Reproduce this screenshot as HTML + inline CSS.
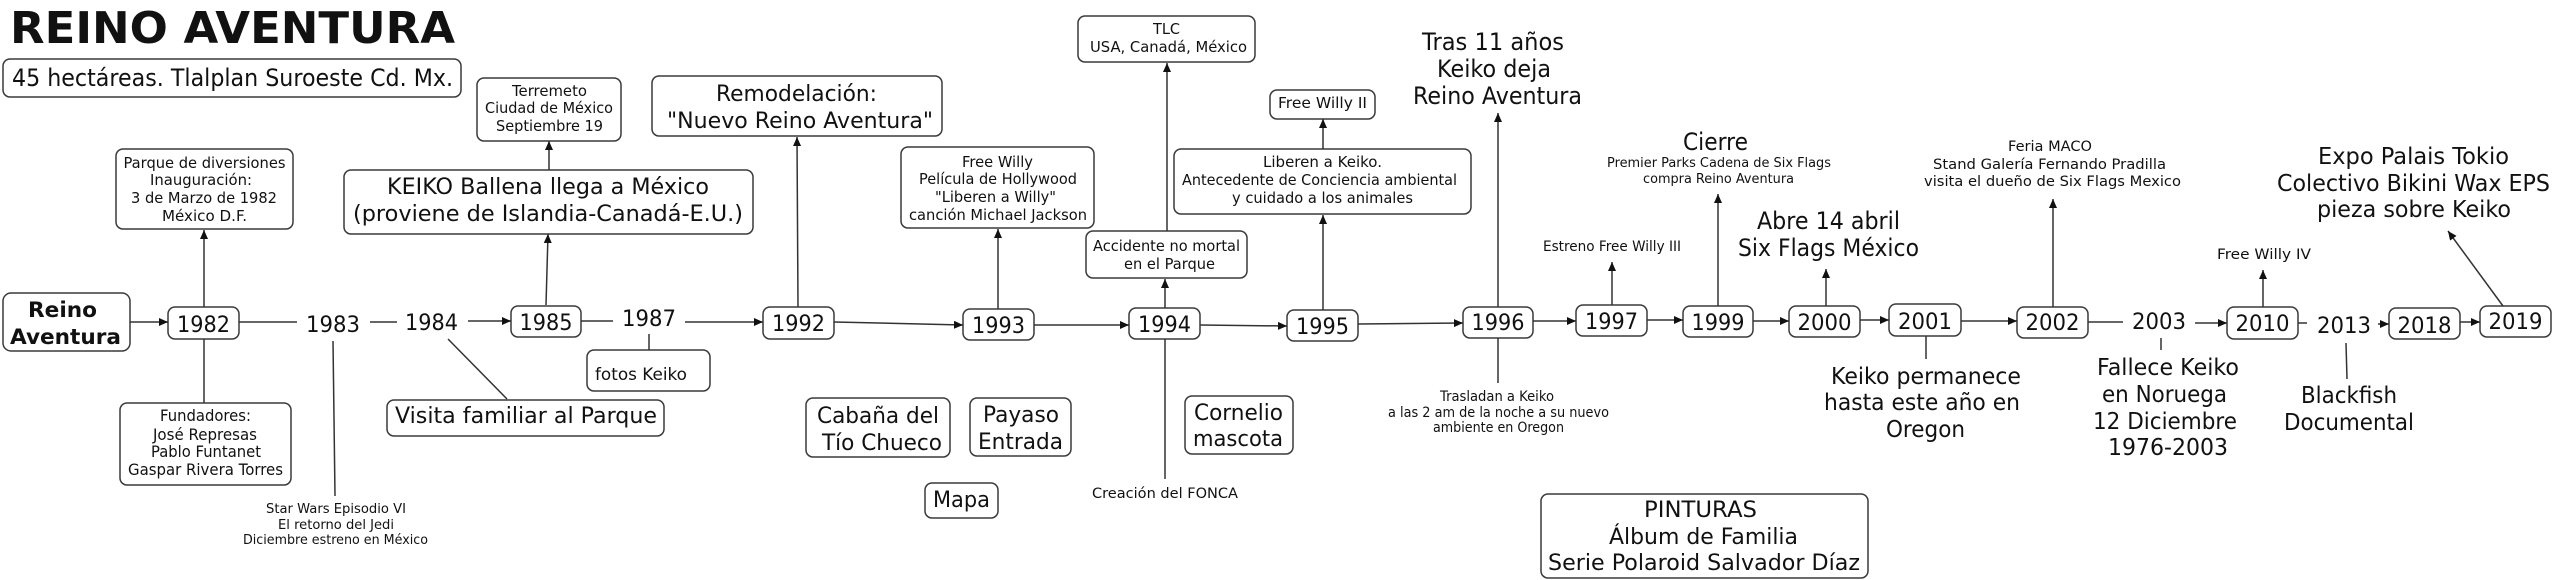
<!DOCTYPE html>
<html><head><meta charset="utf-8"><style>
html,body{margin:0;padding:0;background:#fff;}
svg{display:block;}
text{font-family:"DejaVu Sans","Liberation Sans",sans-serif;fill:#111;}
.m{text-anchor:middle;}
.b{fill:#fff;stroke:#3a3a3a;stroke-width:1.5;}
.l{stroke:#333;stroke-width:1.5;fill:none;}
.a{stroke:#333;stroke-width:1.5;fill:none;marker-end:url(#ah);}
</style></head><body>
<svg width="2560" height="580" viewBox="0 0 2560 580" xmlns="http://www.w3.org/2000/svg">
<defs><marker id="ah" markerUnits="userSpaceOnUse" markerWidth="10" markerHeight="9" refX="9" refY="4" orient="auto"><path d="M0,0 L9,4 L0,8 z" fill="#111"/></marker></defs>

<!-- boxes -->
<rect class="b" x="3" y="59" width="458" height="38" rx="7"/>
<rect class="b" x="116" y="149" width="177" height="80" rx="7"/>
<rect class="b" x="3" y="293" width="127" height="58" rx="8"/>
<rect class="b" x="168" y="307" width="71" height="32" rx="7"/>
<rect class="b" x="120" y="403" width="171" height="82" rx="7"/>
<rect class="b" x="344" y="170" width="409" height="64" rx="7"/>
<rect class="b" x="387" y="400" width="277" height="36" rx="7"/>
<rect class="b" x="477" y="78" width="144" height="63" rx="7"/>
<rect class="b" x="511" y="306" width="70" height="31" rx="7"/>
<rect class="b" x="587" y="350" width="123" height="41" rx="7"/>
<rect class="b" x="763" y="307" width="71" height="32" rx="7"/>
<rect class="b" x="652" y="76" width="290" height="60" rx="7"/>
<rect class="b" x="806" y="398" width="144" height="59" rx="7"/>
<rect class="b" x="963" y="309" width="71" height="31" rx="7"/>
<rect class="b" x="901" y="147" width="193" height="81" rx="7"/>
<rect class="b" x="1129" y="308" width="71" height="31" rx="7"/>
<rect class="b" x="1086" y="231" width="161" height="47" rx="7"/>
<rect class="b" x="1078" y="16" width="177" height="46" rx="7"/>
<rect class="b" x="970" y="398" width="101" height="58" rx="7"/>
<rect class="b" x="925" y="483" width="73" height="35" rx="7"/>
<rect class="b" x="1185" y="396" width="108" height="58" rx="7"/>
<rect class="b" x="1174" y="149" width="297" height="65" rx="7"/>
<rect class="b" x="1270" y="90" width="105" height="29" rx="7"/>
<rect class="b" x="1287" y="310" width="71" height="31" rx="7"/>
<rect class="b" x="1463" y="307" width="70" height="31" rx="7"/>
<rect class="b" x="1576" y="305" width="71" height="31" rx="7"/>
<rect class="b" x="1541" y="494" width="327" height="84" rx="7"/>
<rect class="b" x="1683" y="306" width="70" height="31" rx="7"/>
<rect class="b" x="1789" y="306" width="71" height="31" rx="7"/>
<rect class="b" x="1889" y="304" width="72" height="32" rx="7"/>
<rect class="b" x="2017" y="307" width="71" height="31" rx="7"/>
<rect class="b" x="2227" y="307" width="71" height="32" rx="7"/>
<rect class="b" x="2389" y="308" width="71" height="31" rx="7"/>
<rect class="b" x="2480" y="306" width="71" height="31" rx="7"/>

<!-- plain lines -->
<path class="l" d="M239,322 L297,322"/>
<path class="l" d="M370,322 L397,322"/>
<path class="l" d="M333,341 L335,496"/>
<path class="l" d="M204,339 L204,403"/>
<path class="l" d="M581,321 L613,321"/>
<path class="l" d="M649,334 L649,350"/>
<path class="l" d="M448,339 L507,399"/>
<path class="l" d="M1165,339 L1165,479"/>
<path class="l" d="M1498,338 L1498,383"/>
<path class="l" d="M2088,322 L2123,322"/>
<path class="l" d="M1926,336 L1926,359"/>
<path class="l" d="M2161,338 L2161,350"/>
<path class="l" d="M2298,323 L2307,323"/>
<path class="l" d="M2346,343 L2347,379"/>

<!-- arrows -->
<path class="a" d="M130,322 L168,322"/>
<path class="a" d="M204,307 L204,230"/>
<path class="a" d="M468,321 L511,321"/>
<path class="a" d="M546,305 L548,234"/>
<path class="a" d="M549,170 L549,141"/>
<path class="a" d="M685,322 L763,322"/>
<path class="a" d="M798,307 L797,137"/>
<path class="a" d="M834,322 L963,325"/>
<path class="a" d="M998,309 L998,229"/>
<path class="a" d="M1034,325 L1129,325"/>
<path class="a" d="M1165,308 L1165,279"/>
<path class="a" d="M1167,231 L1167,63"/>
<path class="a" d="M1200,325 L1287,326"/>
<path class="a" d="M1323,310 L1323,215"/>
<path class="a" d="M1323,149 L1323,119"/>
<path class="a" d="M1358,324 L1463,323"/>
<path class="a" d="M1498,307 L1498,113"/>
<path class="a" d="M1533,321 L1576,321"/>
<path class="a" d="M1612,305 L1612,262"/>
<path class="a" d="M1647,320 L1683,320"/>
<path class="a" d="M1718,306 L1718,194"/>
<path class="a" d="M1753,321 L1789,321"/>
<path class="a" d="M1826,306 L1826,269"/>
<path class="a" d="M1860,320 L1889,320"/>
<path class="a" d="M1961,321 L2017,321"/>
<path class="a" d="M2053,307 L2053,199"/>
<path class="a" d="M2195,323 L2227,323"/>
<path class="a" d="M2263,307 L2263,270"/>
<path class="a" d="M2378,324 L2389,324"/>
<path class="a" d="M2460,322 L2480,322"/>
<path class="a" d="M2503,306 L2448,231"/>

<!-- title -->
<text x="10" y="43" font-size="44" font-weight="bold" textLength="445" lengthAdjust="spacingAndGlyphs">REINO AVENTURA</text>
<text x="12" y="86" font-size="24" textLength="441" lengthAdjust="spacingAndGlyphs">45 hectáreas. Tlalplan Suroeste Cd. Mx.</text>

<!-- years -->
<g font-size="22" class="m">
<text class="m" x="203.5" y="332" textLength="53" lengthAdjust="spacingAndGlyphs">1982</text>
<text class="m" x="333" y="332" textLength="54" lengthAdjust="spacingAndGlyphs">1983</text>
<text class="m" x="431.5" y="330" textLength="53" lengthAdjust="spacingAndGlyphs">1984</text>
<text class="m" x="546" y="330" textLength="53" lengthAdjust="spacingAndGlyphs">1985</text>
<text class="m" x="649" y="326" textLength="54" lengthAdjust="spacingAndGlyphs">1987</text>
<text class="m" x="798.5" y="331" textLength="53" lengthAdjust="spacingAndGlyphs">1992</text>
<text class="m" x="998.5" y="333" textLength="53" lengthAdjust="spacingAndGlyphs">1993</text>
<text class="m" x="1164.5" y="332" textLength="53" lengthAdjust="spacingAndGlyphs">1994</text>
<text class="m" x="1322.5" y="334" textLength="53" lengthAdjust="spacingAndGlyphs">1995</text>
<text class="m" x="1498" y="330" textLength="53" lengthAdjust="spacingAndGlyphs">1996</text>
<text class="m" x="1611.5" y="329" textLength="53" lengthAdjust="spacingAndGlyphs">1997</text>
<text class="m" x="1718" y="330" textLength="53" lengthAdjust="spacingAndGlyphs">1999</text>
<text class="m" x="1824.5" y="330" textLength="54" lengthAdjust="spacingAndGlyphs">2000</text>
<text class="m" x="1925" y="329" textLength="54" lengthAdjust="spacingAndGlyphs">2001</text>
<text class="m" x="2052.5" y="330" textLength="54" lengthAdjust="spacingAndGlyphs">2002</text>
<text class="m" x="2159" y="329" textLength="54" lengthAdjust="spacingAndGlyphs">2003</text>
<text class="m" x="2262.5" y="331" textLength="54" lengthAdjust="spacingAndGlyphs">2010</text>
<text class="m" x="2344" y="333" textLength="54" lengthAdjust="spacingAndGlyphs">2013</text>
<text class="m" x="2424.5" y="333" textLength="54" lengthAdjust="spacingAndGlyphs">2018</text>
<text class="m" x="2515.5" y="329" textLength="54" lengthAdjust="spacingAndGlyphs">2019</text>
</g>

<!-- Reino Aventura -->
<text class="m" x="62.5" y="317" font-size="21" font-weight="bold" textLength="69" lengthAdjust="spacingAndGlyphs">Reino</text>
<text class="m" x="65.5" y="344" font-size="21" font-weight="bold" textLength="111" lengthAdjust="spacingAndGlyphs">Aventura</text>

<!-- Parque -->
<g font-size="15.5">
<text class="m" x="204.5" y="168" textLength="162" lengthAdjust="spacingAndGlyphs">Parque de diversiones</text>
<text class="m" x="201" y="185" textLength="102" lengthAdjust="spacingAndGlyphs">Inauguración:</text>
<text class="m" x="204" y="203" textLength="146" lengthAdjust="spacingAndGlyphs">3 de Marzo de 1982</text>
<text class="m" x="204.5" y="221" textLength="85" lengthAdjust="spacingAndGlyphs">México D.F.</text>
</g>

<!-- Fundadores -->
<g font-size="16">
<text class="m" x="205.5" y="421" textLength="91" lengthAdjust="spacingAndGlyphs">Fundadores:</text>
<text class="m" x="205" y="440" textLength="104" lengthAdjust="spacingAndGlyphs">José Represas</text>
<text class="m" x="206" y="457" textLength="110" lengthAdjust="spacingAndGlyphs">Pablo Funtanet</text>
<text class="m" x="205.5" y="475" textLength="155" lengthAdjust="spacingAndGlyphs">Gaspar Rivera Torres</text>
</g>

<!-- Star Wars -->
<g font-size="13.5">
<text class="m" x="336" y="513" textLength="140" lengthAdjust="spacingAndGlyphs">Star Wars Episodio VI</text>
<text class="m" x="336" y="529" textLength="116" lengthAdjust="spacingAndGlyphs">El retorno del Jedi</text>
<text class="m" x="335.5" y="544" textLength="185" lengthAdjust="spacingAndGlyphs">Diciembre estreno en México</text>
</g>

<!-- KEIKO -->
<text class="m" x="548" y="194" font-size="22" textLength="322" lengthAdjust="spacingAndGlyphs">KEIKO Ballena llega a México</text>
<text class="m" x="548" y="221" font-size="22" textLength="390" lengthAdjust="spacingAndGlyphs">(proviene de Islandia-Canadá-E.U.)</text>

<text class="m" x="526" y="423" font-size="22" textLength="262" lengthAdjust="spacingAndGlyphs">Visita familiar al Parque</text>

<!-- Terremoto -->
<g font-size="15">
<text class="m" x="549.5" y="96" textLength="75" lengthAdjust="spacingAndGlyphs">Terremeto</text>
<text class="m" x="549" y="113" textLength="128" lengthAdjust="spacingAndGlyphs">Ciudad de México</text>
<text class="m" x="549.5" y="131" textLength="107" lengthAdjust="spacingAndGlyphs">Septiembre 19</text>
</g>

<text x="595" y="380" font-size="17" textLength="92" lengthAdjust="spacingAndGlyphs">fotos Keiko</text>

<!-- Remodelacion -->
<text class="m" x="796.5" y="101" font-size="22" textLength="161" lengthAdjust="spacingAndGlyphs">Remodelación:</text>
<text class="m" x="800" y="128" font-size="22" textLength="266" lengthAdjust="spacingAndGlyphs">"Nuevo Reino Aventura"</text>

<!-- Cabaña -->
<text class="m" x="878" y="423" font-size="22" textLength="122" lengthAdjust="spacingAndGlyphs">Cabaña del</text>
<text class="m" x="882" y="450" font-size="22" textLength="120" lengthAdjust="spacingAndGlyphs">Tío Chueco</text>

<!-- Free Willy -->
<g font-size="15">
<text class="m" x="997.5" y="167" textLength="71" lengthAdjust="spacingAndGlyphs">Free Willy</text>
<text class="m" x="998" y="184" textLength="158" lengthAdjust="spacingAndGlyphs">Película de Hollywood</text>
<text class="m" x="995.5" y="202" textLength="121" lengthAdjust="spacingAndGlyphs">"Liberen a Willy"</text>
<text class="m" x="998" y="220" textLength="178" lengthAdjust="spacingAndGlyphs">canción Michael Jackson</text>
</g>

<!-- Accidente / TLC -->
<g font-size="15">
<text class="m" x="1166.5" y="251" textLength="147" lengthAdjust="spacingAndGlyphs">Accidente no mortal</text>
<text class="m" x="1169.5" y="269" textLength="91" lengthAdjust="spacingAndGlyphs">en el Parque</text>
<text class="m" x="1166.5" y="34" textLength="27" lengthAdjust="spacingAndGlyphs">TLC</text>
<text class="m" x="1168.5" y="52" textLength="157" lengthAdjust="spacingAndGlyphs">USA, Canadá, México</text>
</g>

<!-- Payaso / Mapa -->
<text class="m" x="1021" y="422" font-size="22" textLength="76" lengthAdjust="spacingAndGlyphs">Payaso</text>
<text class="m" x="1020.5" y="449" font-size="22" textLength="85" lengthAdjust="spacingAndGlyphs">Entrada</text>
<text class="m" x="961.5" y="507" font-size="22" textLength="57" lengthAdjust="spacingAndGlyphs">Mapa</text>

<text class="m" x="1165" y="498" font-size="14" textLength="146" lengthAdjust="spacingAndGlyphs">Creación del FONCA</text>

<!-- Cornelio -->
<text class="m" x="1238.5" y="420" font-size="22" textLength="89" lengthAdjust="spacingAndGlyphs">Cornelio</text>
<text class="m" x="1238" y="446" font-size="22" textLength="90" lengthAdjust="spacingAndGlyphs">mascota</text>

<!-- Liberen -->
<g font-size="15.5">
<text class="m" x="1322.5" y="167" textLength="119" lengthAdjust="spacingAndGlyphs">Liberen a Keiko.</text>
<text class="m" x="1319.5" y="185" textLength="275" lengthAdjust="spacingAndGlyphs">Antecedente de Conciencia ambiental</text>
<text class="m" x="1322.5" y="203" textLength="181" lengthAdjust="spacingAndGlyphs">y cuidado a los animales</text>
</g>
<text class="m" x="1322.5" y="108" font-size="15" textLength="89" lengthAdjust="spacingAndGlyphs">Free Willy II</text>

<!-- Tras 11 años -->
<g font-size="24">
<text class="m" x="1493" y="50" textLength="142" lengthAdjust="spacingAndGlyphs">Tras 11 años</text>
<text class="m" x="1494" y="77" textLength="114" lengthAdjust="spacingAndGlyphs">Keiko deja</text>
<text class="m" x="1497.5" y="104" textLength="169" lengthAdjust="spacingAndGlyphs">Reino Aventura</text>
</g>

<!-- Trasladan -->
<g font-size="14">
<text class="m" x="1497" y="401" textLength="114" lengthAdjust="spacingAndGlyphs">Trasladan a Keiko</text>
<text class="m" x="1498.5" y="417" textLength="221" lengthAdjust="spacingAndGlyphs">a las 2 am de la noche a su nuevo</text>
<text class="m" x="1498.5" y="432" textLength="131" lengthAdjust="spacingAndGlyphs">ambiente en Oregon</text>
</g>

<text class="m" x="1612" y="251" font-size="14" textLength="138" lengthAdjust="spacingAndGlyphs">Estreno Free Willy III</text>

<!-- PINTURAS -->
<g font-size="22">
<text class="m" x="1700.5" y="517" textLength="113" lengthAdjust="spacingAndGlyphs">PINTURAS</text>
<text class="m" x="1703.5" y="544" textLength="189" lengthAdjust="spacingAndGlyphs">Álbum de Familia</text>
<text class="m" x="1704" y="570" textLength="312" lengthAdjust="spacingAndGlyphs">Serie Polaroid Salvador Díaz</text>
</g>

<!-- Cierre -->
<text class="m" x="1715.5" y="150" font-size="24" textLength="65" lengthAdjust="spacingAndGlyphs">Cierre</text>
<text class="m" x="1719" y="167" font-size="13" textLength="224" lengthAdjust="spacingAndGlyphs">Premier Parks Cadena de Six Flags</text>
<text class="m" x="1718.5" y="183" font-size="13" textLength="151" lengthAdjust="spacingAndGlyphs">compra Reino Aventura</text>

<!-- Abre -->
<text class="m" x="1828.5" y="229" font-size="24" textLength="143" lengthAdjust="spacingAndGlyphs">Abre 14 abril</text>
<text class="m" x="1828.5" y="256" font-size="24" textLength="181" lengthAdjust="spacingAndGlyphs">Six Flags México</text>

<!-- Keiko permanece -->
<g font-size="23">
<text class="m" x="1926" y="384" textLength="190" lengthAdjust="spacingAndGlyphs">Keiko permanece</text>
<text class="m" x="1922" y="410" textLength="196" lengthAdjust="spacingAndGlyphs">hasta este año en</text>
<text class="m" x="1925.5" y="437" textLength="79" lengthAdjust="spacingAndGlyphs">Oregon</text>
</g>

<!-- Feria -->
<g font-size="14.5">
<text class="m" x="2050" y="151" textLength="84" lengthAdjust="spacingAndGlyphs">Feria MACO</text>
<text class="m" x="2049.5" y="169" textLength="233" lengthAdjust="spacingAndGlyphs">Stand Galería Fernando Pradilla</text>
<text class="m" x="2052.5" y="186" textLength="257" lengthAdjust="spacingAndGlyphs">visita el dueño de Six Flags Mexico</text>
</g>

<!-- Fallece -->
<g font-size="23">
<text class="m" x="2168" y="375" textLength="142" lengthAdjust="spacingAndGlyphs">Fallece Keiko</text>
<text class="m" x="2164.5" y="402" textLength="125" lengthAdjust="spacingAndGlyphs">en Noruega</text>
<text class="m" x="2165" y="429" textLength="144" lengthAdjust="spacingAndGlyphs">12 Diciembre</text>
<text class="m" x="2168" y="455" textLength="120" lengthAdjust="spacingAndGlyphs">1976-2003</text>
</g>

<text class="m" x="2264" y="259" font-size="14.5" textLength="94" lengthAdjust="spacingAndGlyphs">Free Willy IV</text>

<!-- Blackfish -->
<text class="m" x="2349" y="403" font-size="23" textLength="96" lengthAdjust="spacingAndGlyphs">Blackfish</text>
<text class="m" x="2349" y="430" font-size="23" textLength="130" lengthAdjust="spacingAndGlyphs">Documental</text>

<!-- Expo -->
<g font-size="23">
<text class="m" x="2413.5" y="164" textLength="191" lengthAdjust="spacingAndGlyphs">Expo Palais Tokio</text>
<text class="m" x="2413.5" y="191" textLength="273" lengthAdjust="spacingAndGlyphs">Colectivo Bikini Wax EPS</text>
<text class="m" x="2414" y="217" textLength="194" lengthAdjust="spacingAndGlyphs">pieza sobre Keiko</text>
</g>
</svg>
</body></html>
